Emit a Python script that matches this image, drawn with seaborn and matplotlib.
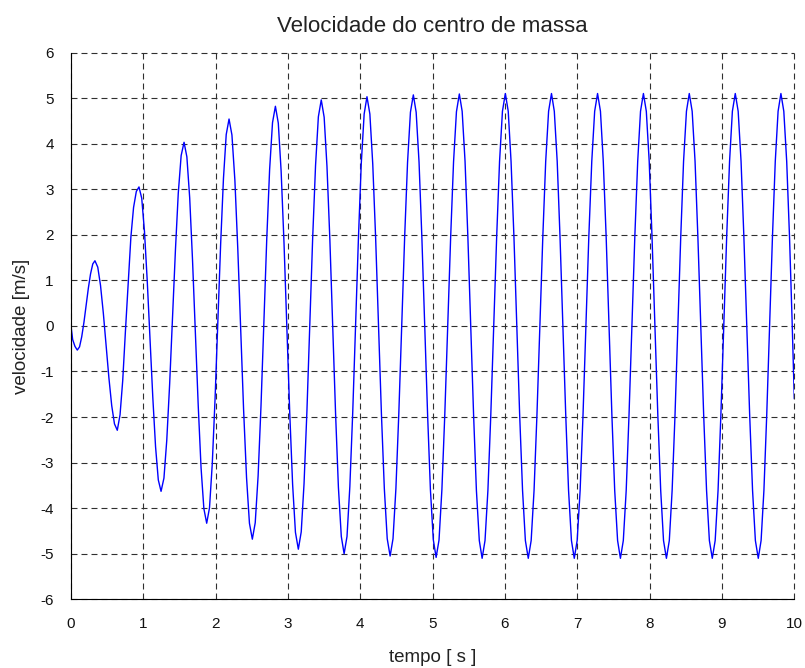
"""
Velocidade do centro de massa - recreated with seaborn
"""

import matplotlib.pyplot as plt
import seaborn as sns
from matplotlib.ticker import MultipleLocator

sns.set_style("white")
plt.rcParams["font.family"] = ["Liberation Sans", "DejaVu Sans"]
plt.rcParams["axes.unicode_minus"] = False
plt.rcParams["lines.scale_dashes"] = False

# ==============================================================================
# DATA
# ==============================================================================
time_s = [
    0.000, 0.023, 0.055, 0.087,
    0.118, 0.148, 0.179, 0.209, 0.240, 0.270, 0.301, 0.331,
    0.370, 0.408, 0.447, 0.486, 0.524, 0.563, 0.601, 0.640,
    0.678, 0.715, 0.753, 0.790, 0.828, 0.865, 0.903, 0.940,
    0.978, 1.016, 1.054, 1.093, 1.131, 1.169, 1.207, 1.245,
    1.285, 1.324, 1.364, 1.404, 1.444, 1.483, 1.523, 1.563,
    1.602, 1.641, 1.680, 1.720, 1.759, 1.798, 1.837, 1.876,
    1.915, 1.953, 1.992, 2.031, 2.069, 2.108, 2.146, 2.185,
    2.225, 2.266, 2.306, 2.346, 2.386, 2.427, 2.467, 2.507,
    2.547, 2.587, 2.627, 2.667, 2.706, 2.746, 2.786, 2.826,
    2.866, 2.905, 2.945, 2.985, 3.024, 3.064, 3.103, 3.143,
    3.183, 3.222, 3.262, 3.302, 3.341, 3.381, 3.420, 3.460,
    3.500, 3.539, 3.579, 3.618, 3.658, 3.697, 3.737, 3.776,
    3.816, 3.855, 3.895, 3.934, 3.974, 4.013, 4.053, 4.092,
    4.132, 4.172, 4.212, 4.252, 4.292, 4.332, 4.372, 4.412,
    4.452, 4.492, 4.532, 4.573, 4.613, 4.653, 4.693, 4.733,
    4.772, 4.812, 4.851, 4.891, 4.930, 4.969, 5.009, 5.048,
    5.088, 5.128, 5.168, 5.208, 5.249, 5.289, 5.329, 5.369,
    5.408, 5.448, 5.487, 5.526, 5.566, 5.605, 5.645, 5.684,
    5.724, 5.764, 5.804, 5.845, 5.885, 5.925, 5.965, 6.005,
    6.045, 6.084, 6.124, 6.164, 6.203, 6.243, 6.282, 6.322,
    6.362, 6.402, 6.442, 6.483, 6.523, 6.563, 6.603, 6.643,
    6.682, 6.722, 6.761, 6.801, 6.840, 6.879, 6.919, 6.958,
    6.998, 7.039, 7.079, 7.119, 7.159, 7.200, 7.240, 7.280,
    7.320, 7.359, 7.399, 7.438, 7.478, 7.517, 7.557, 7.596,
    7.636, 7.676, 7.715, 7.755, 7.795, 7.835, 7.874, 7.914,
    7.954, 7.994, 8.033, 8.073, 8.113, 8.153, 8.192, 8.232,
    8.272, 8.311, 8.351, 8.390, 8.430, 8.469, 8.509, 8.548,
    8.588, 8.628, 8.667, 8.707, 8.747, 8.787, 8.826, 8.866,
    8.906, 8.946, 8.985, 9.025, 9.065, 9.105, 9.144, 9.184,
    9.224, 9.264, 9.303, 9.343, 9.383, 9.423, 9.462, 9.502,
    9.541, 9.580, 9.619, 9.659, 9.698, 9.737, 9.776, 9.815,
    9.855, 9.895, 9.934, 9.970, 10.000,
]

velocity_ms = [
    0.00, -0.30, -0.45, -0.53,
    -0.46, -0.24, 0.08, 0.45, 0.83, 1.14, 1.36, 1.43,
    1.29, 0.89, 0.28, -0.43, -1.14, -1.75, -2.15, -2.29,
    -1.95, -1.20, -0.10, 0.90, 1.95, 2.60, 2.95, 3.05,
    2.80, 2.07, 0.99, -0.29, -1.57, -2.65, -3.38, -3.63,
    -3.34, -2.51, -1.27, 0.20, 1.67, 2.91, 3.74, 4.03,
    3.71, 2.81, 1.45, -0.15, -1.75, -3.11, -4.01, -4.33,
    -3.99, -3.03, -1.59, 0.11, 1.80, 3.24, 4.20, 4.54,
    4.19, 3.19, 1.69, -0.07, -1.83, -3.33, -4.33, -4.68,
    -4.32, -3.29, -1.75, 0.07, 1.89, 3.43, 4.46, 4.82,
    4.45, 3.40, 1.82, -0.04, -1.90, -3.48, -4.53, -4.90,
    -4.52, -3.46, -1.86, 0.03, 1.92, 3.52, 4.59, 4.96,
    4.58, 3.50, 1.89, -0.02, -1.93, -3.54, -4.62, -5.00,
    -4.62, -3.53, -1.90, 0.02, 1.93, 3.56, 4.65, 5.03,
    4.65, 3.55, 1.92, -0.01, -1.94, -3.57, -4.67, -5.05,
    -4.67, -3.57, -1.93, 0.01, 1.95, 3.59, 4.69, 5.07,
    4.69, 3.59, 1.94, 0.00, -1.94, -3.59, -4.69, -5.08,
    -4.70, -3.59, -1.94, 0.00, 1.95, 3.60, 4.70, 5.09,
    4.71, 3.61, 1.95, 0.00, -1.95, -3.61, -4.71, -5.10,
    -4.71, -3.61, -1.95, 0.00, 1.95, 3.61, 4.71, 5.10,
    4.71, 3.61, 1.95, 0.00, -1.95, -3.61, -4.71, -5.10,
    -4.71, -3.61, -1.95, 0.00, 1.95, 3.61, 4.71, 5.10,
    4.71, 3.61, 1.95, 0.00, -1.95, -3.61, -4.71, -5.10,
    -4.71, -3.61, -1.95, 0.00, 1.95, 3.61, 4.71, 5.10,
    4.71, 3.61, 1.95, 0.00, -1.95, -3.61, -4.71, -5.10,
    -4.71, -3.61, -1.95, 0.00, 1.95, 3.61, 4.71, 5.10,
    4.71, 3.61, 1.95, 0.00, -1.95, -3.61, -4.71, -5.10,
    -4.71, -3.61, -1.95, 0.00, 1.95, 3.61, 4.71, 5.10,
    4.71, 3.61, 1.95, 0.00, -1.95, -3.61, -4.71, -5.10,
    -4.71, -3.61, -1.95, 0.00, 1.95, 3.61, 4.71, 5.10,
    4.71, 3.61, 1.95, 0.00, -1.95, -3.61, -4.71, -5.10,
    -4.71, -3.61, -1.95, 0.00, 1.95, 3.61, 4.71, 5.10,
    4.71, 3.61, 1.95, 0.10, -1.60,
]

x_ticks = [0, 1, 2, 3, 4, 5, 6, 7, 8, 9, 10]
y_ticks = [-6, -5, -4, -3, -2, -1, 0, 1, 2, 3, 4, 5, 6]

TITLE = "Velocidade do centro de massa"
X_LABEL = "tempo [ s ]"
Y_LABEL = "velocidade [m/s]"

# ==============================================================================
# PLOT
# ==============================================================================
fig = plt.figure(figsize=(8.05, 6.68), dpi=100)
ax = fig.add_axes([0.0882, 0.1028, 0.8985, 0.8186])

sns.lineplot(
    x=time_s,
    y=velocity_ms,
    ax=ax,
    color="#0000ff",
    linewidth=1.0,
    estimator=None,
    sort=False,
)

ax.set_xlim(0, 10)
ax.set_ylim(-6, 6)
ax.set_xticks(x_ticks)
ax.set_yticks(y_ticks)
ax.xaxis.set_minor_locator(MultipleLocator(0.5))
ax.yaxis.set_minor_locator(MultipleLocator(0.5))

# dashed grid, also on the top and right borders
ax.grid(True, which="major", color="#303030",
        linestyle=(0, (4.3, 2.9)), linewidth=0.8)
for gl in ax.get_xgridlines() + ax.get_ygridlines():
    gl.set_clip_on(False)

for side in ["top", "right"]:
    ax.spines[side].set_visible(False)
for side in ["left", "bottom"]:
    ax.spines[side].set_color("black")
    ax.spines[side].set_linewidth(0.8)

ax.tick_params(which="major", direction="out", length=6.5, width=0.8,
               color="black", labelsize=11, labelcolor="#111111", pad=6)
ax.tick_params(which="minor", direction="out", length=3, width=0.8,
               color="black")

ax.set_title(TITLE, fontsize=16, color="#222222", pad=15)

ax.set_xlabel(X_LABEL, fontsize=13.5, color="#222222")
ax.xaxis.label.set_va("center")
ax.xaxis.set_label_coords(0.5, -0.1055)

ax.set_ylabel(Y_LABEL, fontsize=13.5, color="#222222")
ax.yaxis.label.set_va("center")
ax.yaxis.set_label_coords(-0.069, 0.5)

fig.savefig("out.png", dpi=100)
plt.close(fig)
